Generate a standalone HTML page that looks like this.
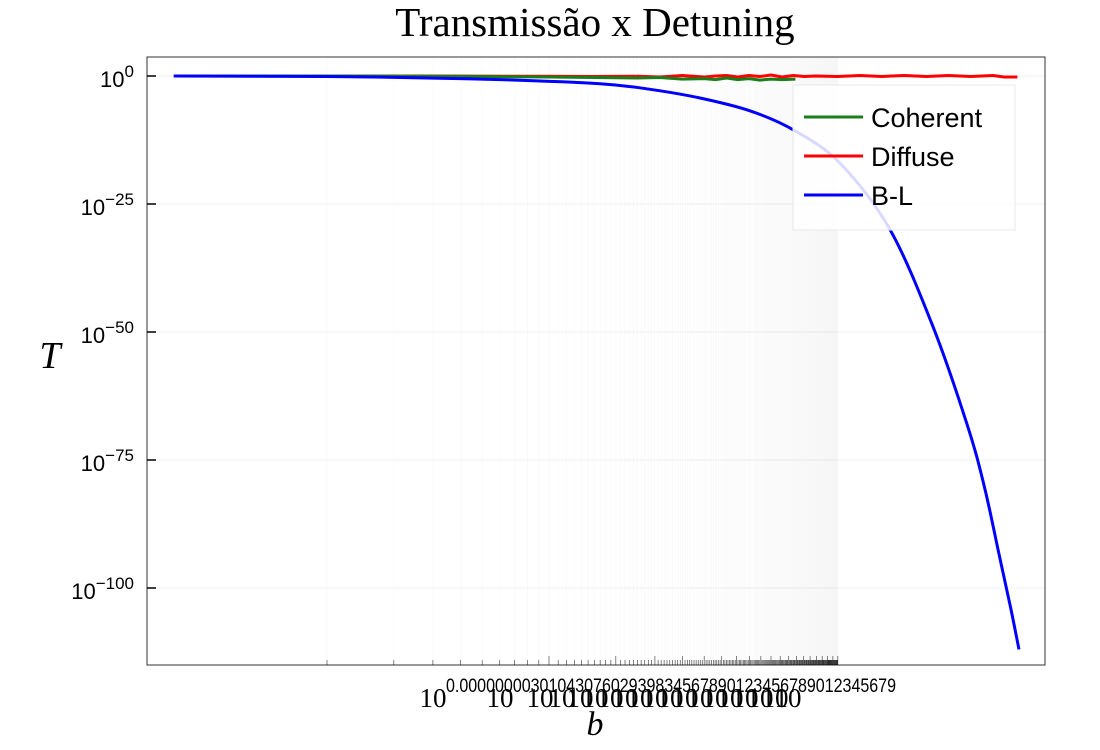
<!DOCTYPE html>
<html><head><meta charset="utf-8"><style>
body{margin:0;background:#fff;}
svg{display:block;}
</style></head><body>
<svg id="chart" width="1100" height="750" xmlns="http://www.w3.org/2000/svg">
<rect x="0" y="0" width="1100" height="750" fill="#fff"/>
<g id="grid"></g>
<g id="series"></g>
<rect x="147" y="57" width="898" height="608" fill="none" stroke="#333" stroke-width="1"/>
<g id="axes"></g>
<text x="595" y="36" text-anchor="middle" font-family="Liberation Serif, serif" font-size="41">Transmissão x Detuning</text>
<text x="50" y="368" text-anchor="middle" font-family="Liberation Serif, serif" font-style="italic" font-size="38">T</text>
<text x="595" y="735" text-anchor="middle" font-family="Liberation Serif, serif" font-style="italic" font-size="34">b</text>
<g id="legend">
<rect x="793" y="85" width="222" height="145" fill="#fff" fill-opacity="0.85" stroke="#e8e8e8"/>
<line x1="804" y1="117" x2="863" y2="117" stroke="#1a7f1a" stroke-width="3"/>
<text x="871" y="127" font-family="Liberation Sans, sans-serif" font-size="27">Coherent</text>
<line x1="804" y1="156" x2="863" y2="156" stroke="#ff0000" stroke-width="3"/>
<text x="871" y="166" font-family="Liberation Sans, sans-serif" font-size="27">Diffuse</text>
<line x1="804" y1="195" x2="863" y2="195" stroke="#0000ff" stroke-width="3"/>
<text x="871" y="205" font-family="Liberation Sans, sans-serif" font-size="27">B-L</text>
</g>
</svg>
<script>
// log10(b) values and log10(T) values
const blX = [-0.69,0.0,0.33,0.78,1.23,1.455,1.68,1.905,2.10,2.31,2.536,2.73,2.883,2.96,3.03,3.08,3.117];
const blY = [0,-0.1,-0.3,-0.7,-1.5,-2.6,-4.3,-6.8,-10.5,-17,-30,-49,-68,-80,-94,-104,-112];
const difX = [-0.69,0.0,0.5,1.0,1.2,1.4,1.5,1.6,1.7,1.75,1.8,1.85,1.9,1.95,2.0,2.05,2.1,2.15,2.2,2.3,2.4,2.5,2.6,2.7,2.8,2.9,3.0,3.05,3.11];
const difY = [0,0,0,-0.05,-0.1,-0.05,-0.2,0.1,-0.2,0.0,0.1,-0.2,0.1,-0.1,0.2,-0.2,0.1,-0.1,0.0,-0.1,0.1,-0.1,0.1,-0.1,0.1,-0.1,0.1,-0.2,-0.2];
const cohX = [-0.69,0.0,0.5,1.0,1.2,1.4,1.5,1.6,1.7,1.75,1.8,1.85,1.9,1.95,2.0,2.05,2.11];
const cohY = [0,0,-0.05,-0.2,-0.3,-0.4,-0.3,-0.6,-0.5,-0.7,-0.4,-0.7,-0.5,-0.8,-0.6,-0.7,-0.6];
const yTicks = [0,-25,-50,-75,-100];
const yTickLabels = ["0","−25","−50","−75","−100"];
const xMinorN = 200;

const NS="http://www.w3.org/2000/svg";
function X(lb){return 327+222*lb;}
function Y(lt){return 76-5.12*lt;}
function mk(tag,attrs,parent){const e=document.createElementNS(NS,tag);for(const k in attrs)e.setAttribute(k,attrs[k]);parent.appendChild(e);return e;}
const grid=document.getElementById('grid'),axes=document.getElementById('axes'),series=document.getElementById('series');

for(let n=1;n<=xMinorN;n++){
  const x=X(Math.log10(n));
  const g=mk('line',{x1:x,x2:x,y1:57,y2:665,stroke:'#000','stroke-opacity':0.018,'stroke-width':1},grid);
  
  
  const t=mk('line',{x1:x,x2:x,y1:665,y2:(n%10==0)?656:660,stroke:'#000','stroke-width':0.6,'stroke-opacity':0.8},axes);
  
  
}
const xl=mk('g',{'font-family':'Liberation Serif, serif','font-size':'27'},axes);


const bases=[433,500,540,562,580,595,610,625,640,655,670,685,700,715,730,745,760,775,788];
bases.forEach(bx=>{const t=mk('text',{x:bx,y:707,'text-anchor':'middle'},xl);t.textContent='10';
  
  });
const sup=mk('text',{x:446,y:692,'font-family':'Liberation Sans, sans-serif','font-size':'19',textLength:450,lengthAdjust:'spacingAndGlyphs'},axes);
sup.textContent='0.0000000030104307602939834567890123456789012345679';



yTicks.forEach((v,i)=>{
  const y=Y(v);
  const g=mk('line',{x1:147,x2:1045,y1:y,y2:y,stroke:'#000','stroke-opacity':0.06},grid);
  
  
  const t=mk('line',{x1:147,x2:156,y1:y,y2:y,stroke:'#000','stroke-width':1.5},axes);
  
  
  const lab=mk('text',{x:134,y:y+11,'text-anchor':'end','font-family':'Liberation Sans, sans-serif','font-size':'22'},axes);
  
  
  const b=document.createElementNS(NS,'tspan');b.textContent='10';lab.appendChild(b);
  const s=document.createElementNS(NS,'tspan');s.setAttribute('dy','-10');s.setAttribute('font-size','17');s.textContent=yTickLabels[i];lab.appendChild(s);
});

function line(xs,ys,color,name,smooth){
  const P=xs.map((x,i)=>[X(x),Y(ys[i])]);
  let d='M'+P[0][0].toFixed(1)+' '+P[0][1].toFixed(1);
  for(let i=0;i<P.length-1;i++){
    if(!smooth){d+=' L'+P[i+1][0].toFixed(1)+' '+P[i+1][1].toFixed(1);continue;}
    const p0=P[Math.max(0,i-1)],p1=P[i],p2=P[i+1],p3=P[Math.min(P.length-1,i+2)];
    const c1=[p1[0]+(p2[0]-p0[0])/6,p1[1]+(p2[1]-p0[1])/6];
    const c2=[p2[0]-(p3[0]-p1[0])/6,p2[1]-(p3[1]-p1[1])/6];
    d+=' C'+c1.map(v=>v.toFixed(1)).join(' ')+' '+c2.map(v=>v.toFixed(1)).join(' ')+' '+p2[0].toFixed(1)+' '+p2[1].toFixed(1);
  }
  const p=mk('path',{d:d,fill:'none',stroke:color,'stroke-width':3,'stroke-linejoin':'round'},series);
  
  
}
line(difX,difY,'#ff0000','diffuse-line',false);
line(cohX,cohY,'#1a7f1a','coherent-line',false);
line(blX,blY,'#0000ff','bl-line',true);
</script>
</body></html>
